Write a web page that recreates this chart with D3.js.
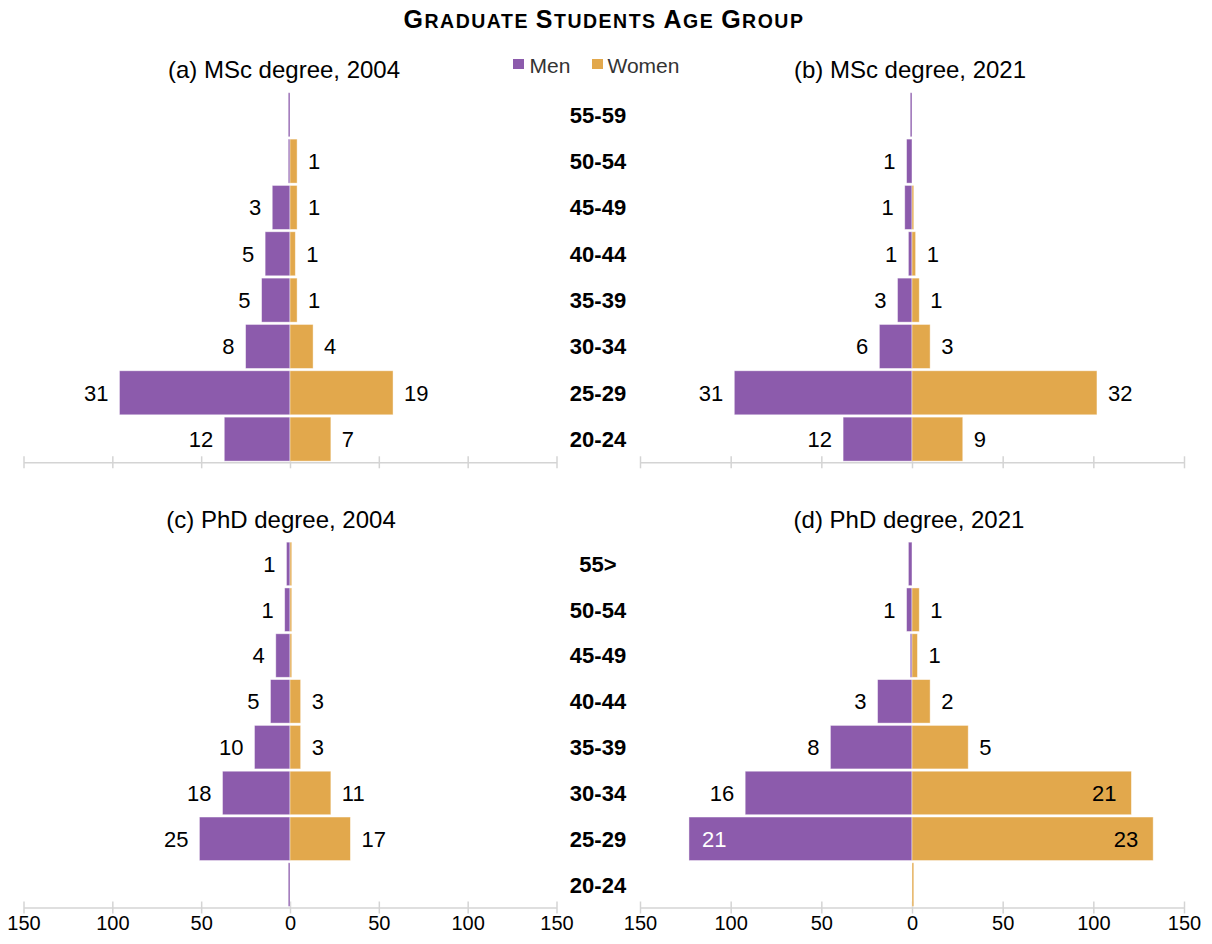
<!DOCTYPE html>
<html>
<head>
<meta charset="utf-8">
<script src="https://cdn.jsdelivr.net/npm/d3@7"></script>
<style>
  html, body { margin: 0; padding: 0; background: #fff; }
  svg { display: block; font-family: Arial, "Liberation Sans", sans-serif; }
</style>
</head>
<body>
<svg id="chart" width="1212" height="944"></svg>
<script>
// Age groups, top to bottom
const mscAgeGroups = ["55-59", "50-54", "45-49", "40-44", "35-39", "30-34", "25-29", "20-24"];
const phdAgeGroups = ["55>", "50-54", "45-49", "40-44", "35-39", "30-34", "25-29", "20-24"];

// Number of students per age group
const mscMen2004   = [1, 1, 10, 14, 16, 25, 96, 37];
const mscWomen2004 = [0, 4, 4, 3, 4, 13, 58, 23];
const mscMen2021   = [1, 3, 4, 2, 8, 18, 98, 38];
const mscWomen2021 = [0, 0, 1, 2, 4, 10, 102, 28];
const phdMen2004   = [2, 3, 8, 11, 20, 38, 51, 1];
const phdWomen2004 = [1, 1, 1, 6, 6, 23, 34, 0];
const phdMen2021   = [2, 3, 1, 19, 45, 92, 123, 0];
const phdWomen2021 = [0, 4, 3, 10, 31, 121, 133, 1];

// Share of the total (%), shown as bar labels (null = no label)
const mscMen2004Pct   = [null, null, 3, 5, 5, 8, 31, 12];
const mscWomen2004Pct = [null, 1, 1, 1, 1, 4, 19, 7];
const mscMen2021Pct   = [null, 1, 1, 1, 3, 6, 31, 12];
const mscWomen2021Pct = [null, null, null, 1, 1, 3, 32, 9];
const phdMen2004Pct   = [1, 1, 4, 5, 10, 18, 25, null];
const phdWomen2004Pct = [null, null, null, 3, 3, 11, 17, null];
const phdMen2021Pct   = [null, 1, null, 3, 8, 16, 21, null];
const phdWomen2021Pct = [null, 1, 1, 2, 5, 21, 23, null];

const axisTicks = [-150, -100, -50, 0, 50, 100, 150];
const seriesNames = ["Men", "Women"];
const colors = { Men: "#8C5BAC", Women: "#E2A84C" };

const svg = d3.select("#chart");

// Title in small capitals
const title = svg.append("text")
  .attr("x", 604).attr("y", 28)
  .attr("text-anchor", "middle")
  .attr("font-weight", "bold")
  .attr("letter-spacing", "1.5px")
  .attr("fill", "#000");
[["G", "RADUATE "], ["S", "TUDENTS "], ["A", "GE "], ["G", "ROUP"]].forEach(([cap, rest]) => {
  title.append("tspan").attr("font-size", 25).text(cap);
  title.append("tspan").attr("font-size", 19.5).text(rest);
});

// Legend
const legend = svg.append("g");
[[513, 529.5], [592, 607.5]].forEach(([sx, tx], i) => {
  legend.append("rect").attr("x", sx).attr("y", 59).attr("width", 11).attr("height", 10)
    .attr("fill", colors[seriesNames[i]]);
  legend.append("text").attr("x", tx).attr("y", 72.5)
    .attr("font-size", 21).attr("fill", "#333").text(seriesNames[i]);
});

const panels = [
  { title: "(a) MSc degree, 2004", cats: mscAgeGroups, men: mscMen2004, women: mscWomen2004,
    menPct: mscMen2004Pct, womenPct: mscWomen2004Pct,
    xr: [23.5, 556.5], yr: [91.6, 462.3], titleX: 284, titleY: 77.5, tickText: false },
  { title: "(b) MSc degree, 2021", cats: mscAgeGroups, men: mscMen2021, women: mscWomen2021,
    menPct: mscMen2021Pct, womenPct: mscWomen2021Pct,
    xr: [640, 1184], yr: [91.6, 462.3], titleX: 910, titleY: 77.5, tickText: false },
  { title: "(c) PhD degree, 2004", cats: phdAgeGroups, men: phdMen2004, women: phdWomen2004,
    menPct: phdMen2004Pct, womenPct: phdWomen2004Pct,
    xr: [23.5, 556.5], yr: [541, 907.5], titleX: 281, titleY: 528, tickText: true },
  { title: "(d) PhD degree, 2021", cats: phdAgeGroups, men: phdMen2021, women: phdWomen2021,
    menPct: phdMen2021Pct, womenPct: phdWomen2021Pct,
    xr: [640, 1184], yr: [541, 907.5], titleX: 909, titleY: 528, tickText: true }
];

// Labels of long bars go inside the bar end
const insideLimit = 110;

panels.forEach(p => {
  const g = svg.append("g");
  const x = d3.scaleLinear().domain([-150, 150]).range(p.xr);
  const y = d3.scaleBand().domain(p.cats).range(p.yr).paddingInner(0.05).paddingOuter(0.025);

  g.append("text")
    .attr("x", p.titleX).attr("y", p.titleY)
    .attr("text-anchor", "middle").attr("font-size", 24).attr("fill", "#000")
    .text(p.title);

  // axis with crossing tick marks
  const axis = d3.axisBottom(x).tickValues(axisTicks)
    .tickSize(6).tickSizeOuter(0).tickPadding(2)
    .tickFormat(d => p.tickText ? Math.abs(d) : "");
  const ax = g.append("g").attr("transform", `translate(0,${p.yr[1]})`).call(axis);
  ax.select(".domain").attr("stroke", "#d4d4d4").attr("stroke-width", 1.5);
  ax.selectAll(".tick line").attr("y1", -6).attr("y2", 6)
    .attr("stroke", "#d4d4d4").attr("stroke-width", 1.5);
  ax.selectAll(".tick text").attr("font-size", 20).attr("fill", "#000")
    .attr("font-family", "Arial, 'Liberation Sans', sans-serif");

  const rows = p.cats.map((c, i) => ({
    cat: c, men: p.men[i], women: p.women[i], menPct: p.menPct[i], womenPct: p.womenPct[i]
  }));

  g.selectAll(".men").data(rows.filter(d => d.men > 0)).join("rect")
    .attr("x", d => x(-d.men)).attr("width", d => x(0) - x(-d.men))
    .attr("y", d => y(d.cat)).attr("height", y.bandwidth())
    .attr("fill", colors.Men).attr("stroke", "#fff").attr("stroke-opacity", 0.55).attr("stroke-width", 0.8);

  g.selectAll(".women").data(rows.filter(d => d.women > 0)).join("rect")
    .attr("x", x(0)).attr("width", d => x(d.women) - x(0))
    .attr("y", d => y(d.cat)).attr("height", y.bandwidth())
    .attr("fill", colors.Women).attr("stroke", "#fff").attr("stroke-opacity", 0.55).attr("stroke-width", 0.8);

  // value labels
  rows.forEach(d => {
    const cy = y(d.cat) + y.bandwidth() / 2;
    if (d.menPct != null) {
      const inside = d.men > insideLimit;
      g.append("text")
        .attr("x", inside ? x(-d.men) + 13 : x(-d.men) - 11)
        .attr("y", cy).attr("dy", "0.36em")
        .attr("text-anchor", inside ? "start" : "end")
        .attr("font-size", 22).attr("fill", inside ? "#fff" : "#000")
        .text(d.menPct);
    }
    if (d.womenPct != null) {
      const inside = d.women > insideLimit;
      g.append("text")
        .attr("x", inside ? x(d.women) - 15 : x(d.women) + 11)
        .attr("y", cy).attr("dy", "0.36em")
        .attr("text-anchor", inside ? "end" : "start")
        .attr("font-size", 22).attr("fill", "#000")
        .text(d.womenPct);
    }
  });

  // age group labels in the centre column (drawn once per row of panels)
  if (p.titleX < 600) {
    svg.append("g").selectAll("text").data(p.cats).join("text")
      .attr("x", 598).attr("y", d => y(d) + y.bandwidth() / 2).attr("dy", "0.36em")
      .attr("text-anchor", "middle").attr("font-size", 22).attr("font-weight", "bold")
      .attr("fill", "#000")
      .text(d => d);
  }
});
</script>
</body>
</html>
